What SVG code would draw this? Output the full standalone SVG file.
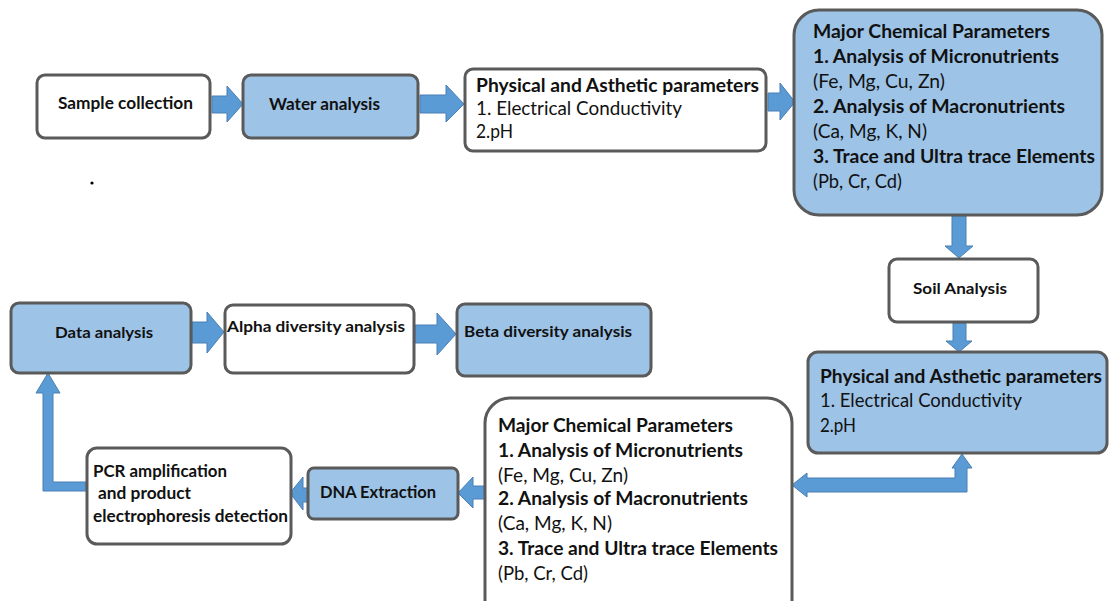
<svg xmlns="http://www.w3.org/2000/svg" width="1109" height="601" viewBox="0 0 1109 601">
<style>
.box{stroke:#5a5a5a;stroke-width:3}
.w{fill:#ffffff}
.b{fill:#9dc3e6}
.arr{fill:#5b9bd5;stroke:#4a7fb5;stroke-width:1}
text{font-family:Lato,"Liberation Sans",sans-serif;fill:#111111}
.bd{font-weight:bold}
.f17{font-size:18.5px}
.f16{font-size:17px}
.f15{font-size:16px}
</style>
<rect width="1109" height="601" fill="#ffffff"/>
<g id="connectors">
  <polygon class="arr" points="212,96 227,96 227,86 243,104 227,122 227,113 212,113"/>
  <polygon class="arr" points="420,95 446,95 446,85 464,104 446,122 446,113 420,113"/>
  <polygon class="arr" points="768,93 780,93 780,83 795,102 780,120 780,111 768,111"/>
  <polygon class="arr" points="952,216 966,216 966,246 973,246 959,258 945,246 952,246"/>
  <polygon class="arr" points="953,323 966,323 966,341 972,341 959,352 946,341 953,341"/>
  <polygon class="arr" points="962,454 972,468 967,468 967,492 807,492 807,497 792,485 807,473 807,478 955,478 955,468 952,468"/>
  <polygon class="arr" points="485,486 473,486 473,477 458,493 473,508 473,499 485,499"/>
  <polygon class="arr" points="308,488 303,488 303,477 290,493 303,510 303,502 308,502"/>
  <polygon class="arr" points="86,482 53,482 53,393 60,393 48,373 36,393 43,393 43,491 86,491"/>
  <polygon class="arr" points="192,322 207,322 207,312 224,332 207,353 207,343 192,343"/>
  <polygon class="arr" points="415,325 437,325 437,313 456,334 437,355 437,343 415,343"/>
</g>
<g id="sample-collection">
  <rect class="box w" x="37" y="75" width="173" height="63" rx="8"/>
  <text class="bd f16" x="58" y="109" textLength="135" lengthAdjust="spacingAndGlyphs">Sample collection</text>
</g>
<g id="water-analysis">
  <rect class="box b" x="243" y="75" width="175" height="63" rx="8"/>
  <text class="bd f16" x="269" y="110" textLength="111" lengthAdjust="spacingAndGlyphs">Water analysis</text>
</g>
<g id="physical-water">
  <rect class="box w" x="465" y="69" width="301" height="82" rx="8"/>
  <text class="bd f17" x="476" y="92" textLength="283" lengthAdjust="spacingAndGlyphs">Physical and Asthetic parameters</text>
  <text class="f17" x="476" y="115" textLength="206" lengthAdjust="spacingAndGlyphs">1. Electrical Conductivity</text>
  <text class="f17" x="476" y="138" textLength="37" lengthAdjust="spacingAndGlyphs">2.pH</text>
</g>
<g id="major-water">
  <rect class="box b" x="794" y="10" width="308" height="205" rx="25"/>
  <text class="bd f17" x="813" y="38" textLength="237" lengthAdjust="spacingAndGlyphs">Major Chemical Parameters</text>
  <text class="bd f17" x="813" y="63" textLength="246" lengthAdjust="spacingAndGlyphs">1. Analysis of Micronutrients</text>
  <text class="f17" x="813" y="88" textLength="132" lengthAdjust="spacingAndGlyphs">(Fe, Mg, Cu, Zn)</text>
  <text class="bd f17" x="813" y="113" textLength="252" lengthAdjust="spacingAndGlyphs">2. Analysis of Macronutrients</text>
  <text class="f17" x="813" y="138" textLength="114" lengthAdjust="spacingAndGlyphs">(Ca, Mg, K, N)</text>
  <text class="bd f17" x="813" y="163" textLength="282" lengthAdjust="spacingAndGlyphs">3. Trace and Ultra trace Elements</text>
  <text class="f17" x="813" y="188" textLength="89" lengthAdjust="spacingAndGlyphs">(Pb, Cr, Cd)</text>
</g>
<g id="soil-analysis">
  <rect class="box w" x="889" y="259" width="149" height="63" rx="8"/>
  <text class="bd f15" x="913" y="294" textLength="94" lengthAdjust="spacingAndGlyphs">Soil Analysis</text>
</g>
<g id="physical-soil">
  <rect class="box b" x="808" y="352" width="299" height="101" rx="10"/>
  <text class="bd f17" x="820" y="383" textLength="282" lengthAdjust="spacingAndGlyphs">Physical and Asthetic parameters</text>
  <text class="f17" x="820" y="407" textLength="202" lengthAdjust="spacingAndGlyphs">1. Electrical Conductivity</text>
  <text class="f17" x="820" y="432" textLength="36" lengthAdjust="spacingAndGlyphs">2.pH</text>
</g>
<g id="major-soil">
  <rect class="box w" x="485" y="398" width="307" height="230" rx="25"/>
  <text class="bd f17" x="498" y="432" textLength="235" lengthAdjust="spacingAndGlyphs">Major Chemical Parameters</text>
  <text class="bd f17" x="498" y="457" textLength="245" lengthAdjust="spacingAndGlyphs">1. Analysis of Micronutrients</text>
  <text class="f17" x="498" y="482" textLength="130" lengthAdjust="spacingAndGlyphs">(Fe, Mg, Cu, Zn)</text>
  <text class="bd f17" x="498" y="505" textLength="250" lengthAdjust="spacingAndGlyphs">2. Analysis of Macronutrients</text>
  <text class="f17" x="498" y="530" textLength="114" lengthAdjust="spacingAndGlyphs">(Ca, Mg, K, N)</text>
  <text class="bd f17" x="498" y="555" textLength="280" lengthAdjust="spacingAndGlyphs">3. Trace and Ultra trace Elements</text>
  <text class="f17" x="498" y="580" textLength="90" lengthAdjust="spacingAndGlyphs">(Pb, Cr, Cd)</text>
</g>
<g id="dna-extraction">
  <rect class="box b" x="308" y="468" width="150" height="51" rx="6"/>
  <text class="bd f16" x="320" y="498" textLength="116" lengthAdjust="spacingAndGlyphs">DNA Extraction</text>
</g>
<g id="pcr">
  <rect class="box w" x="87" y="448" width="204" height="96" rx="10"/>
  <text class="bd f16" x="93" y="477" textLength="134" lengthAdjust="spacingAndGlyphs">PCR amplification</text>
  <text class="bd f16" x="98" y="499" textLength="93" lengthAdjust="spacingAndGlyphs">and product</text>
  <text class="bd f16" x="93" y="522" textLength="195" lengthAdjust="spacingAndGlyphs">electrophoresis detection</text>
</g>
<g id="data-analysis">
  <rect class="box b" x="11" y="303" width="180" height="70" rx="8"/>
  <text class="bd f15" x="55" y="338" textLength="98" lengthAdjust="spacingAndGlyphs">Data analysis</text>
</g>
<g id="alpha-diversity">
  <rect class="box w" x="225" y="305" width="189" height="68" rx="8"/>
  <text class="bd f15" x="227" y="332" textLength="178" lengthAdjust="spacingAndGlyphs">Alpha diversity analysis</text>
</g>
<g id="beta-diversity">
  <rect class="box b" x="457" y="304" width="194" height="72" rx="8"/>
  <text class="bd f15" x="464" y="337" textLength="168" lengthAdjust="spacingAndGlyphs">Beta diversity analysis</text>
</g>
<circle cx="92" cy="183" r="1.6" fill="#000000"/>
</svg>
